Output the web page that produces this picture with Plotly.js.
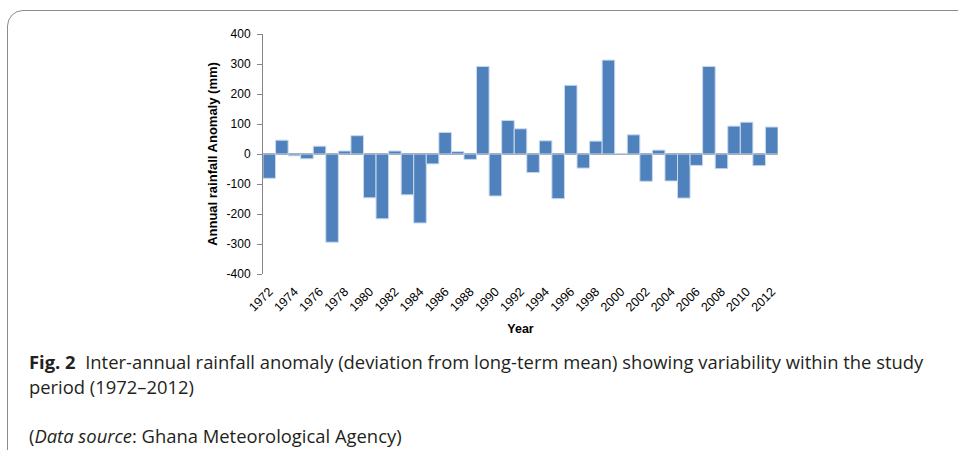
<!DOCTYPE html>
<html>
<head>
<meta charset="utf-8">
<script src="https://cdn.plot.ly/plotly-3.0.1.min.js"></script>
<style>
  html, body { margin: 0; padding: 0; width: 958px; height: 450px; overflow: hidden; background: #fff; }
  #frame { position: absolute; left: 7px; top: 10px; width: 1000px; height: 520px;
           border: 1px solid #8c8c8c; border-radius: 16px; box-sizing: border-box; }
  #chart { position: absolute; left: 0; top: 0; width: 958px; height: 450px; }
</style>
</head>
<body>
<div id="frame"></div>
<div id="chart"></div>
<script>
const years = [1972,1973,1974,1975,1976,1977,1978,1979,1980,1981,1982,1983,1984,1985,1986,1987,1988,1989,1990,1991,
               1992,1993,1994,1995,1996,1997,1998,1999,2000,2001,2002,2003,2004,2005,2006,2007,2008,2009,2010,2011,2012];
const anomaly = [-81,46,-6,-16,26,-294,10,61,-146,-216,10,-136,-230,-33,72,8,-18,292,-140,112,
                 84,-62,44,-149,229,-47,43,313,2,64,-91,13,-90,-147,-38,292,-49,93,106,-39,90];
const tickYears = [1972,1974,1976,1978,1980,1982,1984,1986,1988,1990,1992,1994,1996,1998,2000,2002,2004,2006,2008,2010,2012];
const yTicks = [-400,-300,-200,-100,0,100,200,300,400];
const yTickText = ['-400','-300','-200','-100','0','100','200','300','400'];

const L = 263, R = 778, T = 34, B = 274;
const px = v => (v - L) / (R - L);
const py = v => (B - v) / (B - T);

const trace = {
  type: 'bar', x: years, y: anomaly,
  marker: { color: '#4F81BD', line: { color: '#c9d9ee', width: 1 } },
  hoverinfo: 'x+y'
};

const capFont = { family: 'Open Sans, sans-serif', size: 18.4, color: '#231f20' };

const layout = {
  width: 958, height: 450,
  margin: { l: L, r: 958 - R, t: T, b: 450 - B, pad: 0 },
  paper_bgcolor: 'rgba(0,0,0,0)', plot_bgcolor: 'rgba(0,0,0,0)',
  bargap: 0,
  showlegend: false,
  font: { family: 'Liberation Sans, Arial, sans-serif', color: '#000' },
  xaxis: {
    range: [1971.5, 2012.5], tickmode: 'array', tickvals: tickYears, ticktext: tickYears.map(String),
    tickangle: -45, ticks: '', showgrid: false, showline: false, zeroline: false,
    tickfont: { size: 12.5 }, automargin: false, ticklabelstandoff: 7,
    title: { text: '<b>Year</b>', font: { size: 12.5 }, standoff: 10 }
  },
  yaxis: {
    range: [-400, 400], tickmode: 'array', tickvals: yTicks, ticktext: yTickText,
    showgrid: false, showline: true, linecolor: '#868686', linewidth: 1,
    ticks: 'outside', ticklen: 5, tickcolor: '#868686', ticklabelstandoff: 4,
    zeroline: true, zerolinecolor: '#868686', zerolinewidth: 2,
    tickfont: { size: 12 }, automargin: false,
    title: { text: '<b>Annual rainfall Anomaly (mm)</b>', font: { size: 13 }, standoff: 6 }
  },
  annotations: [
    { xref: 'paper', yref: 'paper', x: px(27), y: py(361), xanchor: 'left', yanchor: 'middle', showarrow: false,
      text: '<b>Fig. 2</b>  Inter-annual rainfall anomaly (deviation from long-term mean) showing variability within the study',
      font: capFont },
    { xref: 'paper', yref: 'paper', x: px(27), y: py(386), xanchor: 'left', yanchor: 'middle', showarrow: false,
      text: 'period (1972–2012)', font: capFont },
    { xref: 'paper', yref: 'paper', x: px(27), y: py(435), xanchor: 'left', yanchor: 'middle', showarrow: false,
      text: '(<i>Data source</i>: Ghana Meteorological Agency)', font: capFont }
  ]
};

Plotly.newPlot('chart', [trace], layout, { displayModeBar: false, staticPlot: true });
</script>
</body>
</html>
